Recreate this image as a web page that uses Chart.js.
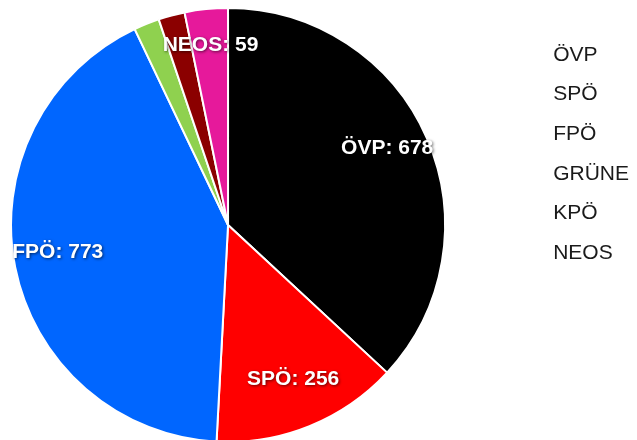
<!DOCTYPE html>
<html>
<head>
<meta charset="utf-8">
<script src="https://cdn.jsdelivr.net/npm/chart.js@4/dist/chart.umd.min.js"></script>
<style>
  html, body { margin: 0; padding: 0; background: #ffffff; overflow: hidden; width: 637px; height: 440px; }
  #wrap { position: absolute; left: -68px; top: 0; width: 707px; height: 442px; }
</style>
</head>
<body>
<div id="wrap"><canvas id="c"></canvas></div>
<script>
const categories = ['ÖVP', 'SPÖ', 'FPÖ', 'GRÜNE', 'KPÖ', 'NEOS'];
const values = [678, 256, 773, 35, 36, 59];
const colors = ['#000000', '#ff0000', '#0066ff', '#8fd14f', '#8b0000', '#e6199b'];

const sliceLabels = {
  id: 'sliceLabels',
  afterDatasetsDraw(chart) {
    const ctx = chart.ctx;
    const meta = chart.getDatasetMeta(0);
    const total = values.reduce((a, b) => a + b, 0);
    ctx.save();
    ctx.font = "bold 21px 'Liberation Sans', Arial, sans-serif";
    ctx.fillStyle = '#ffffff';
    ctx.textAlign = 'center';
    ctx.textBaseline = 'middle';
    ctx.shadowColor = 'rgba(0,0,0,0.6)';
    ctx.shadowBlur = 3;
    ctx.shadowOffsetX = 1;
    ctx.shadowOffsetY = 1;
    meta.data.forEach((arc, i) => {
      if (values[i] / total < 0.03) return;
      const p = arc.getProps(['x', 'y', 'startAngle', 'endAngle', 'outerRadius'], true);
      const mid = (p.startAngle + p.endAngle) / 2;
      const r = p.outerRadius * 0.8;
      ctx.fillText(categories[i] + ': ' + values[i], p.x + Math.cos(mid) * r, p.y + Math.sin(mid) * r - 7);
    });
    ctx.restore();
  }
};

new Chart(document.getElementById('c'), {
  type: 'pie',
  data: {
    labels: categories,
    datasets: [{
      data: values,
      backgroundColor: colors,
      borderColor: '#ffffff',
      borderWidth: 2,
      hoverOffset: 0,
      radius: 217
    }]
  },
  options: {
    responsive: true,
    maintainAspectRatio: false,
    animation: false,
    layout: { padding: { top: 8, bottom: 0, left: 0, right: 0 } },
    plugins: {
      tooltip: { enabled: false },
      legend: {
        position: 'right',
        align: 'start',
        title: { display: true, text: '', font: { size: 18, lineHeight: 1 }, padding: 0 },
        labels: {
          boxWidth: 0,
          boxHeight: 0,
          padding: 18.6,
          color: '#1a1a1a',
          font: { size: 21, family: "'Liberation Sans', Arial, sans-serif" },
          generateLabels(chart) {
            const items = Chart.overrides.pie.plugins.legend.labels.generateLabels(chart);
            return items.map(it => Object.assign(it, { fillStyle: 'rgba(0,0,0,0)', strokeStyle: 'rgba(0,0,0,0)', lineWidth: 0 }));
          }
        }
      }
    }
  },
  plugins: [sliceLabels]
});
</script>
</body>
</html>
